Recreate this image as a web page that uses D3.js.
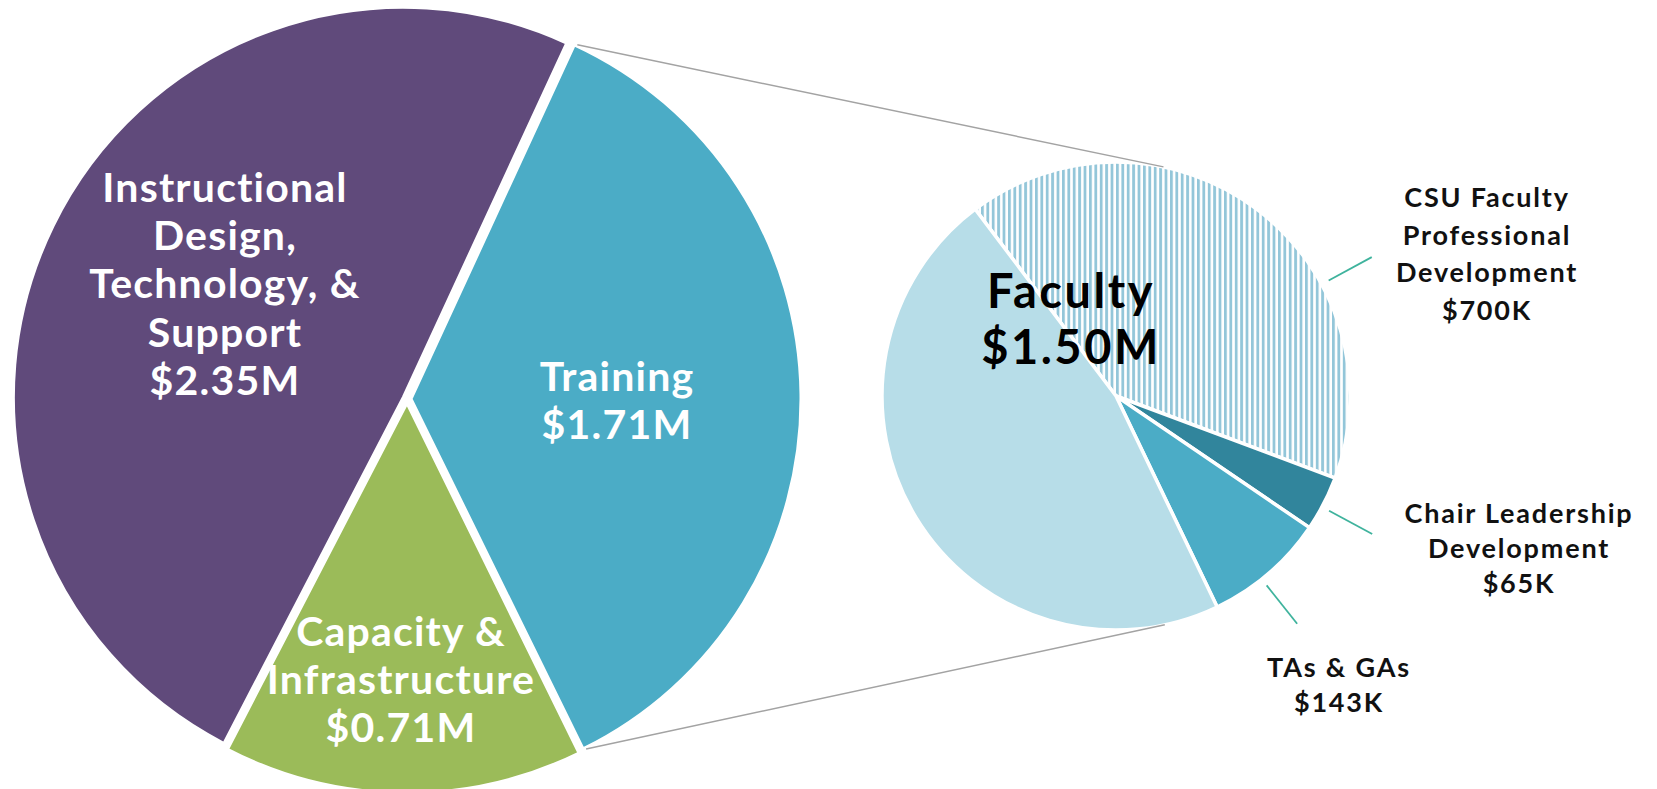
<!DOCTYPE html>
<html>
<head>
<meta charset="utf-8">
<script src="https://cdn.jsdelivr.net/npm/d3@7"></script>
<style>
    body { margin: 0; background: #fff; }
    text { font-family: Lato, "Open Sans", sans-serif; font-weight: 700; }
</style>
</head>
<body>
<div class="chart"></div>
<script>
'use strict';
// main pie ($M)
var mainNames = ["Instructional Design, Technology, & Support", "Training", "Capacity & Infrastructure"];
var mainValues = [2.35, 1.71, 0.71];
var mainLabels = [
    ["Instructional", "Design,", "Technology, &", "Support", "$2.35M"],
    ["Training", "$1.71M"],
    ["Capacity &", "Infrastructure", "$0.71M"]
];
var mainColors = ["#604a7b", "#4bacc6", "#9bbb59"];

// breakdown of Training ($K)
var subNames = ["CSU Faculty Professional Development", "Chair Leadership Development", "TAs & GAs", "Faculty (other)"];
var subValues = [700, 65, 143, 800];
var subLabels = [
    ["CSU Faculty", "Professional", "Development", "$700K"],
    ["Chair Leadership", "Development", "$65K"],
    ["TAs & GAs", "$143K"],
    []
];
var subColors = ["url(#hatch)", "#31859c", "#4bacc6", "#b7dde8"];
var facultyLabel = ["Faculty", "$1.50M"];

// layout
var width = 1657, height = 789;
var big = {cx: 407, cy: 399, r: 390, explode: 4, start: -152.6};
var small = {cx: 1116, cy: 396, r: 234, start: -37};
var mainLabelPos = [[225, 202], [617, 391], [401, 646]];
var mainLineH = [48.2, 48, 48];
var subLabelPos = [[1487, 207], [1519, 523], [1339, 677]];
var subLineH = [37.5, 35, 35];
var leaderAngles = [61.5, 118.3, 141.5];

var rad = Math.PI / 180;

var svg = d3.select(".chart").append("svg")
    .attr("width", width)
    .attr("height", height);

var defs = svg.append("defs");
var hatch = defs.append("pattern")
    .attr("id", "hatch")
    .attr("patternUnits", "userSpaceOnUse")
    .attr("width", 5.4)
    .attr("height", 10);
hatch.append("rect").attr("width", 5.4).attr("height", 10).attr("fill", "#fff");
hatch.append("rect").attr("width", 2.8).attr("height", 10).attr("fill", "#93c6d9");

// main pie
var bigPie = d3.pie().sort(null)
    .startAngle(big.start * rad)
    .endAngle(big.start * rad + 2 * Math.PI);
var bigArcs = bigPie(mainValues);
var bigArc = d3.arc().innerRadius(0).outerRadius(big.r);

function offset(d, k) {
    var mid = (d.startAngle + d.endAngle) / 2;
    return [Math.sin(mid) * k, -Math.cos(mid) * k];
}

var gBig = svg.append("g")
    .attr("transform", "translate(" + big.cx + "," + big.cy + ")");

gBig.selectAll("path")
    .data(bigArcs)
    .enter().append("path")
    .attr("d", bigArc)
    .attr("transform", function (d) {
        var o = offset(d, big.explode);
        return "translate(" + o[0] + "," + o[1] + ")";
    })
    .attr("fill", function (d, i) { return mainColors[i]; })
    .attr("stroke", "#fff")
    .attr("stroke-width", 3);

// small pie
var smallPie = d3.pie().sort(null)
    .startAngle(small.start * rad)
    .endAngle(small.start * rad + 2 * Math.PI);
var smallArcs = smallPie(subValues);
var smallArc = d3.arc().innerRadius(0).outerRadius(small.r);

var gSmall = svg.append("g")
    .attr("transform", "translate(" + small.cx + "," + small.cy + ")");

gSmall.selectAll("path")
    .data(smallArcs)
    .enter().append("path")
    .attr("d", smallArc)
    .attr("fill", function (d, i) { return subColors[i]; })
    .attr("stroke", "#fff")
    .attr("stroke-width", 3.5);

// connector lines from Training slice to the small pie (tangents)
function tangents(p, c, r) {
    var dx = p[0] - c[0], dy = p[1] - c[1];
    var d = Math.sqrt(dx * dx + dy * dy);
    var phi = Math.atan2(dy, dx);
    var a = Math.acos(r / d);
    return [
        [c[0] + r * Math.cos(phi + a), c[1] + r * Math.sin(phi + a)],
        [c[0] + r * Math.cos(phi - a), c[1] + r * Math.sin(phi - a)]
    ];
}

var tr = bigArcs[1];
var to = offset(tr, big.explode);
var pTop = [big.cx + to[0] + big.r * Math.sin(tr.startAngle), big.cy + to[1] - big.r * Math.cos(tr.startAngle)];
var pBot = [big.cx + to[0] + big.r * Math.sin(tr.endAngle), big.cy + to[1] - big.r * Math.cos(tr.endAngle)];
var tTop = tangents(pTop, [small.cx, small.cy], small.r).sort(function (a, b) { return a[1] - b[1]; })[0];
var tBot = tangents(pBot, [small.cx, small.cy], small.r).sort(function (a, b) { return b[1] - a[1]; })[0];

svg.append("g").selectAll("line")
    .data([[pTop, tTop], [pBot, tBot]])
    .enter().append("line")
    .attr("x1", function (d) { return d[0][0] + 3; })
    .attr("y1", function (d) { return d[0][1]; })
    .attr("x2", function (d) { return d[1][0]; })
    .attr("y2", function (d) { return d[1][1]; })
    .attr("stroke", "#a3a3a3")
    .attr("stroke-width", 1.5);

// main labels
var mainText = svg.append("g").selectAll("text")
    .data(mainLabels)
    .enter().append("text")
    .attr("x", function (d, i) { return mainLabelPos[i][0]; })
    .attr("y", function (d, i) { return mainLabelPos[i][1]; })
    .attr("text-anchor", "middle")
    .attr("fill", "#fff")
    .attr("font-size", 41)
    .attr("letter-spacing", 1.2);

mainText.each(function (lines, i) {
    d3.select(this).selectAll("tspan")
        .data(lines)
        .enter().append("tspan")
        .attr("x", mainLabelPos[i][0])
        .attr("dy", function (d, j) { return j === 0 ? 0 : mainLineH[i]; })
        .text(function (d) { return d; });
});

// faculty label
svg.append("text")
    .attr("x", 1071)
    .attr("y", 308)
    .attr("text-anchor", "middle")
    .attr("fill", "#000")
    .attr("font-size", 47)
    .attr("letter-spacing", 2.5)
    .selectAll("tspan")
    .data(facultyLabel)
    .enter().append("tspan")
    .attr("x", 1071)
    .attr("dy", function (d, j) { return j === 0 ? 0 : 56; })
    .text(function (d) { return d; });

// leader lines
var rIn = small.r + 8, rOut = small.r + 57;
svg.append("g").selectAll("line")
    .data(leaderAngles)
    .enter().append("line")
    .attr("x1", function (a) { return small.cx + rIn * Math.sin(a * rad); })
    .attr("y1", function (a) { return small.cy - rIn * Math.cos(a * rad); })
    .attr("x2", function (a) { return small.cx + rOut * Math.sin(a * rad); })
    .attr("y2", function (a) { return small.cy - rOut * Math.cos(a * rad); })
    .attr("stroke", "#3fb39d")
    .attr("stroke-width", 1.8);

// sub labels
var subText = svg.append("g").selectAll("text")
    .data(subLabels.slice(0, 3))
    .enter().append("text")
    .attr("x", function (d, i) { return subLabelPos[i][0]; })
    .attr("y", function (d, i) { return subLabelPos[i][1]; })
    .attr("text-anchor", "middle")
    .attr("fill", "#111")
    .attr("font-size", 27)
    .attr("letter-spacing", 1.8);

subText.each(function (lines, i) {
    d3.select(this).selectAll("tspan")
        .data(lines)
        .enter().append("tspan")
        .attr("x", subLabelPos[i][0])
        .attr("dy", function (d, j) { return j === 0 ? 0 : subLineH[i]; })
        .text(function (d) { return d; });
});
</script>
</body>
</html>
